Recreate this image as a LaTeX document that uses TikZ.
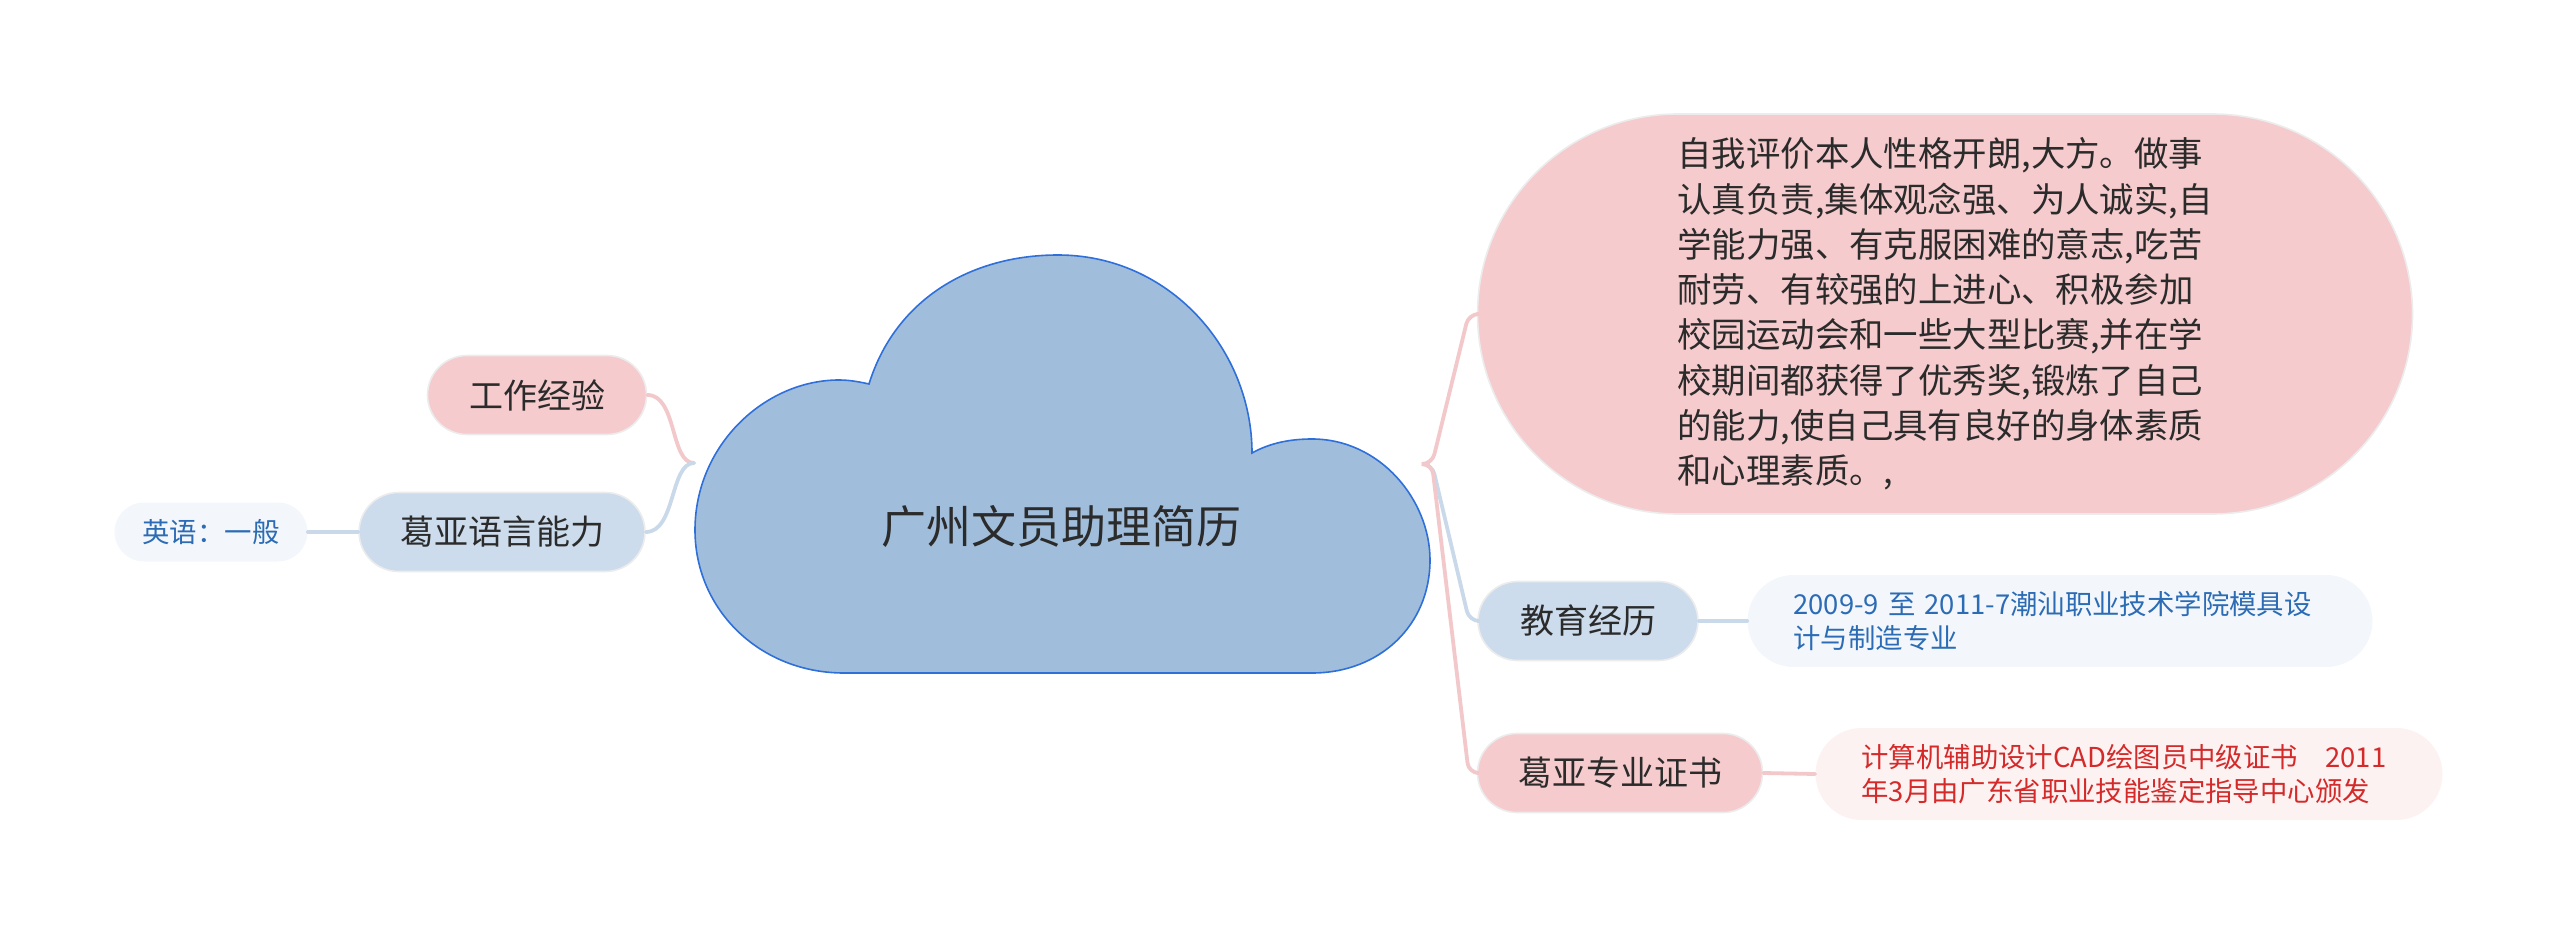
\documentclass[tikz,border=0pt]{standalone}
\usepackage{fontspec}
\setmainfont{Noto Sans CJK SC}
\definecolor{cloudfill}{HTML}{A0BEDB}
\definecolor{cloudedge}{HTML}{2F6FDA}
\definecolor{pinkfill}{HTML}{F5CBCD}
\definecolor{bluefill}{HTML}{CCDCEC}
\definecolor{pinkline}{HTML}{F2C8CA}
\definecolor{blueline}{HTML}{C9D9E9}
\definecolor{lbfill}{HTML}{F3F7FB}
\definecolor{lpfill}{HTML}{FDF2F2}
\definecolor{bluetxt}{HTML}{2C6CB5}
\definecolor{redtxt}{HTML}{D42A2A}
\definecolor{txt}{HTML}{2B2B2B}
\definecolor{pilledge}{HTML}{ECECEC}
\tikzset{
  pill/.style={draw=pilledge, line width=0.8pt, rounded corners=19.75pt, minimum height=39.5pt, inner sep=0pt, text=txt, font=\fontsize{17}{20}\selectfont},
  pinkpill/.style={pill, fill=pinkfill},
  bluepill/.style={pill, fill=bluefill},
  detail/.style={draw=none, rounded corners=23pt, minimum height=46pt, inner xsep=23pt, inner ysep=0pt, text width=266.5pt, align=left, font=\fontsize{13.7}{17}\selectfont},
  bigpink/.style={draw=pilledge, line width=0.8pt, fill=pinkfill, rounded corners=100pt, minimum width=467.5pt, minimum height=200pt, inner sep=0pt, align=left, text=txt, font=\fontsize{17.2}{22.65}\selectfont},
  pinkconn/.style={draw=pinkline, line width=1.9pt, line cap=round},
  blueconn/.style={draw=blueline, line width=1.9pt, line cap=round},
}
\begin{document}
\begin{tikzpicture}[x=0.5pt,y=-0.5pt]
\useasboundingbox (0,0) rectangle (2560,936);
% cloud
\draw[fill=cloudfill, draw=cloudedge, line width=0.8pt]
  (844,673) .. controls (760,673) and (695,610) .. (695,530)
  .. controls (695,445) and (765,380) .. (839,380)
  .. controls (850,380) and (860,382) .. (869,384)
  .. controls (895,300) and (970,255) .. (1058,255)
  .. controls (1170,255) and (1252,350) .. (1252,453)
  .. controls (1270,443) and (1290,439) .. (1312,439)
  .. controls (1380,439) and (1430,500) .. (1430,560)
  .. controls (1430,625) and (1380,673) .. (1312,673)
  -- cycle;
\node[text=txt, font=\fontsize{22.5}{27}\selectfont] (title) at (1061,526) {广州文员助理简历};
\coordinate (jl) at (694,463);
\coordinate (jr) at (1428,464);
% left side
\node[pinkpill, minimum width=109.5pt] (work) at (537,395) {工作经验};
\node[bluepill, minimum width=143pt] (lang) at (502,532) {葛亚语言能力};
\node[draw=none, fill=lbfill, rounded corners=14.75pt, minimum width=96.5pt, minimum height=29.5pt, inner sep=0pt, text=bluetxt, font=\fontsize{13.7}{16}\selectfont] (eng) at (211,532) {英语：一般};
% right side
\node[bigpink] (self) at (1945,314) {自我评价本人性格开朗,大方。做事\\认真负责,集体观念强、为人诚实,自\\学能力强、有克服困难的意志,吃苦\\耐劳、有较强的上进心、积极参加\\校园运动会和一些大型比赛,并在学\\校期间都获得了优秀奖,锻炼了自己\\的能力,使自己具有良好的身体素质\\和心理素质。,};
\node[bluepill, minimum width=110pt] (edu) at (1588,621) {教育经历};
\node[pinkpill, minimum width=142.5pt] (cert) at (1620,773) {葛亚专业证书};
\node[detail, fill=lbfill, text=bluetxt] (edud) at (2060,621) {\mbox{2009-9~至~2011-7潮汕职业技术学院模具设}\\\mbox{计与制造专业}};
\node[detail, fill=lpfill, text=redtxt, text width=267.5pt] (certd) at (2129,774) {\mbox{计算机辅助设计CAD绘图员中级证书~~~2011}\\\mbox{年3月由广东省职业技能鉴定指导中心颁发}};
% connectors
\draw[pinkconn] (work.east) .. controls +(30,0) and +(-24,0) .. (jl);
\draw[blueconn] (lang.east) .. controls +(30,0) and +(-24,0) .. (jl);
\draw[blueconn] (eng.east) -- (lang.west);
\draw[pinkconn, rounded corners=5pt] (jr) -- ++(4,0) -- ([xshift=-4pt]self.west) -- (self.west);
\draw[blueconn, rounded corners=5pt] (jr) -- ++(4,0) -- ([xshift=-4pt]edu.west) -- (edu.west);
\draw[pinkconn, rounded corners=5pt] (jr) -- ++(4,0) -- ([xshift=-4pt]cert.west) -- (cert.west);
\draw[blueconn] (edu.east) -- (edud.west);
\draw[pinkconn] (cert.east) -- (certd.west);
\end{tikzpicture}
\end{document}
